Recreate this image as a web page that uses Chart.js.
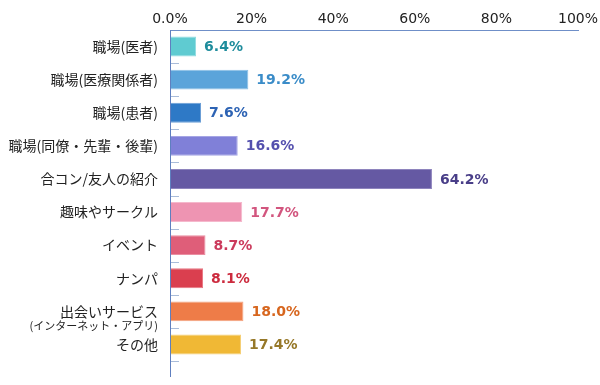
<!DOCTYPE html>
<html>
<head>
<meta charset="utf-8">
<script src="https://cdn.jsdelivr.net/npm/chart.js@4/dist/chart.umd.min.js"></script>
<style>
  html, body { margin: 0; padding: 0; background: #fff; }
  #wrap { width: 600px; height: 385px; position: relative; }
</style>
</head>
<body>
<div id="wrap"><canvas id="chart"></canvas></div>
<script>
// ── Data ──
const categories = ['職場(医者)', '職場(医療関係者)', '職場(患者)', '職場(同僚・先輩・後輩)', '合コン/友人の紹介',
    '趣味やサークル', 'イベント', 'ナンパ', '出会いサービス', 'その他'];
const subLabels = ['', '', '', '', '', '', '', '', '(インターネット・アプリ)', ''];
const values = [6.4, 19.2, 7.6, 16.6, 64.2, 17.7, 8.7, 8.1, 18.0, 17.4];
const xTickLabels = ['0.0%', '20%', '40%', '60%', '80%', '100%'];

const barColors = ['#5fcbd1', '#5ba4da', '#2e79c6', '#8080d8', '#6559a3', '#ee94b2', '#df5e79', '#da3f4f', '#ee7c48', '#f0b835'];
const barEdges  = ['#8fdce0', '#8cc0e6', '#6c9fd6', '#a5a5e4', '#8e84bd', '#f5b8cc', '#ea8ea1', '#e87681', '#f4a37f', '#f5cf75'];
const labelColors = ['#1e8c9c', '#3a8cc8', '#2d63b4', '#5450ae', '#493e88', '#d2557e', '#cb3a5c', '#cc2b3e', '#d7661e', '#967828'];

// ── Extras: value labels, sub label, axis line + inner ticks ──
const extrasPlugin = {
    id: 'extras',
    afterDatasetsDraw(chart) {
        const ctx = chart.ctx;
        const x = chart.scales.x, y = chart.scales.y;
        const area = chart.chartArea;
        const band = (area.bottom - area.top) / categories.length;
        ctx.save();

        // vertical axis, runs a bit past the last category
        ctx.strokeStyle = '#5f7fbf';
        ctx.lineWidth = 1;
        ctx.beginPath();
        ctx.moveTo(area.left + 0.5, area.top);
        ctx.lineTo(area.left + 0.5, area.bottom + 16);
        ctx.stroke();

        // short ticks between categories
        ctx.strokeStyle = '#a9bcd9';
        categories.forEach((c, i) => {
            const ty = Math.round(y.getPixelForValue(i) + band / 2) + 0.5;
            ctx.beginPath();
            ctx.moveTo(area.left + 1, ty);
            ctx.lineTo(area.left + 9, ty);
            ctx.stroke();
        });

        // value labels
        ctx.font = 'bold 14px "DejaVu Sans", Verdana, sans-serif';
        ctx.textAlign = 'left';
        ctx.textBaseline = 'middle';
        values.forEach((v, i) => {
            ctx.fillStyle = labelColors[i];
            ctx.fillText(v.toFixed(1) + '%', x.getPixelForValue(v) + 8, y.getPixelForValue(i) + 1);
        });

        // second line under a category label
        ctx.font = '11px "Noto Sans CJK JP", sans-serif';
        ctx.textAlign = 'right';
        ctx.fillStyle = '#222';
        subLabels.forEach((s, i) => {
            if (s) ctx.fillText(s, area.left - 12, y.getPixelForValue(i) + 14);
        });
        ctx.restore();
    }
};

new Chart(document.getElementById('chart'), {
    type: 'bar',
    data: {
        labels: categories,
        datasets: [{
            data: values,
            backgroundColor: barColors,
            borderColor: barEdges,
            borderWidth: 1,
            borderSkipped: 'left',
            barPercentage: 0.6,
            categoryPercentage: 1.0
        }]
    },
    options: {
        indexAxis: 'y',
        responsive: true,
        maintainAspectRatio: false,
        animation: false,
        layout: { padding: { top: 0, right: 0, bottom: 24, left: 0 } },
        plugins: { legend: { display: false }, tooltip: { enabled: false } },
        scales: {
            x: {
                position: 'top',
                min: 0, max: 100,
                ticks: {
                    stepSize: 20,
                    color: '#222',
                    padding: 2,
                    font: { family: '"DejaVu Sans", Verdana, sans-serif', size: 14 },
                    callback: (v, i) => xTickLabels[i]
                },
                grid: { display: false, drawTicks: false },
                border: { display: true, color: '#6f8fc8', width: 1 },
                afterFit: s => { s.height = 30; s.paddingRight = 22; s.paddingLeft = 0; }
            },
            y: {
                ticks: {
                    color: '#222',
                    padding: 12,
                    font: { family: '"Noto Sans CJK JP", sans-serif', size: 14 }
                },
                grid: { display: false, drawTicks: false },
                border: { display: false },
                afterFit: s => { s.width = 170; }
            }
        }
    },
    plugins: [extrasPlugin]
});
</script>
</body>
</html>
